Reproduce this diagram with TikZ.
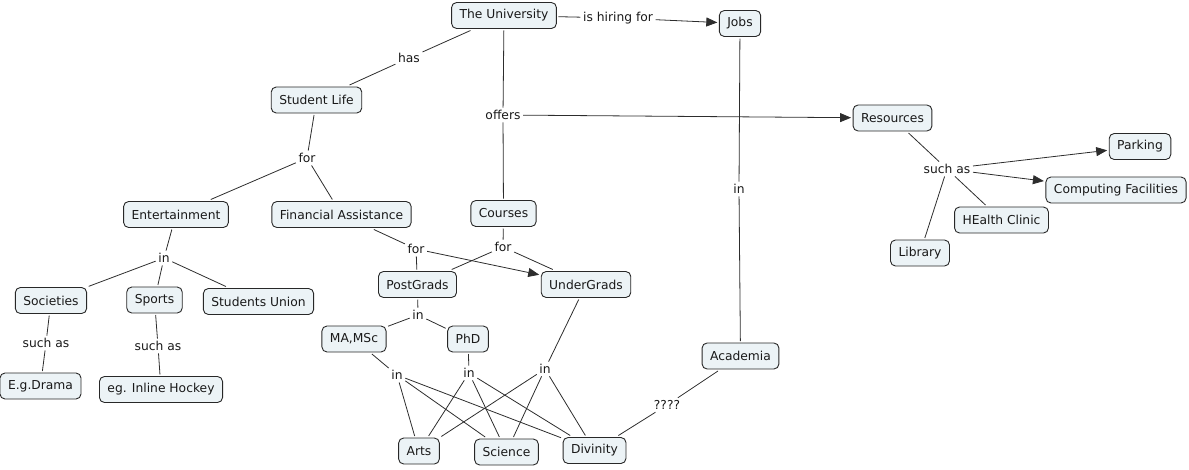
\documentclass[tikz,border=0pt]{standalone}
\usepackage{fontspec}
\setmainfont{DejaVu Sans}
\usetikzlibrary{arrows.meta}
\definecolor{boxfill}{RGB}{236,243,246}
\definecolor{boxline}{RGB}{40,40,40}
\definecolor{lin}{RGB}{45,45,45}
\definecolor{txt}{RGB}{25,25,25}
\newcommand\cmfs{\fontsize{12.3}{14}\selectfont}
\begin{document}
\begin{tikzpicture}[x=1pt,y=-1pt,
 concept/.style={draw=boxline, fill=boxfill, rounded corners=5pt, inner xsep=8pt, inner ysep=0pt, minimum height=26pt, line width=0.9pt, font=\cmfs, text=txt, outer sep=2pt},
 linker/.style={inner sep=2.5pt, font=\cmfs, text=txt},
 conn/.style={draw=lin, line width=0.8pt},
 arr/.style={conn, -{Triangle[length=11pt,width=9pt]}}]
\useasboundingbox (0,0) rectangle (1189,469);
% concepts
\node[concept] (uni) at (504,15.5) {The University};
\node[concept] (jobs) at (740,23.5) {Jobs};
\node[concept] (sl) at (316.5,100) {Student Life};
\node[concept] (res) at (892.5,118) {Resources};
\node[concept] (park) at (1140,146.5) {Parking};
\node[concept] (comp) at (1116,190) {Computing Facilities};
\node[concept] (health) at (1001.5,220) {HEalth Clinic};
\node[concept] (lib) at (920,253) {Library};
\node[concept] (ent) at (176,214.5) {Entertainment};
\node[concept] (fin) at (341.5,214.5) {Financial Assistance};
\node[concept] (courses) at (503.5,213.5) {Courses};
\node[concept] (pg) at (417.5,284.5) {PostGrads};
\node[concept] (ug) at (586,284.5) {UnderGrads};
\node[concept] (soc) at (51,300.5) {Societies};
\node[concept] (sports) at (154.5,300) {Sports};
\node[concept] (su) at (258.5,301.5) {Students Union};
\node[concept] (ma) at (354,339) {MA,MSc};
\node[concept] (phd) at (468,339) {PhD};
\node[concept] (acad) at (740.5,356) {Academia};
\node[concept] (drama) at (40.5,386) {E.g.Drama};
\node[concept] (hockey) at (161,389.5) {eg. Inline Hockey};
\node[concept] (arts) at (419,451) {Arts};
\node[concept] (sci) at (506.5,452) {Science};
\node[concept] (div) at (594.5,450.5) {Divinity};
% linking phrases
\node[linker] (has) at (409,58) {has};
\node[linker] (hire) at (618,18) {is hiring for};
\node[linker] (offers) at (503,115) {offers};
\node[linker] (forsl) at (307,158) {for};
\node[linker] (injobs) at (739,189) {in};
\node[linker] (suchres) at (947,169) {such as};
\node[linker] (inent) at (164,258) {in};
\node[linker] (forfin) at (416,249) {for};
\node[linker] (forcou) at (503,247) {for};
\node[linker] (inpg) at (418,315) {in};
\node[linker] (suchsoc) at (46,343) {such as};
\node[linker] (suchsp) at (158,346) {such as};
\node[linker] (inma) at (397,375) {in};
\node[linker] (inphd) at (469,373) {in};
\node[linker] (inug) at (545,369) {in};
\node[linker] (q) at (667,405) {????};
% connectors
\draw[conn] (uni) -- (has); \draw[conn] (has) -- (sl);
\draw[conn] (uni) -- (hire); \draw[arr] (hire) -- (jobs);
\draw[conn] (uni) -- (offers); \draw[arr] (offers) -- (res); \draw[conn] (offers) -- (courses);
\draw[conn] (sl) -- (forsl); \draw[conn] (forsl) -- (ent); \draw[conn] (forsl) -- (fin);
\draw[conn] (jobs) -- (injobs); \draw[conn] (injobs) -- (acad);
\draw[conn] (res) -- (suchres); \draw[arr] (suchres) -- (park); \draw[arr] (suchres) -- (comp);
\draw[conn] (suchres) -- (health); \draw[conn] (suchres) -- (lib);
\draw[conn] (ent) -- (inent); \draw[conn] (inent) -- (soc); \draw[conn] (inent) -- (sports); \draw[conn] (inent) -- (su);
\draw[conn] (fin) -- (forfin); \draw[conn] (forfin) -- (pg); \draw[arr] (forfin) -- (ug);
\draw[conn] (courses) -- (forcou); \draw[conn] (forcou) -- (pg); \draw[conn] (forcou) -- (ug);
\draw[conn] (pg) -- (inpg); \draw[conn] (inpg) -- (ma); \draw[conn] (inpg) -- (phd);
\draw[conn] (soc) -- (suchsoc); \draw[conn] (suchsoc) -- (drama);
\draw[conn] (sports) -- (suchsp); \draw[conn] (suchsp) -- (hockey);
\draw[conn] (ma) -- (inma); \draw[conn] (inma) -- (arts); \draw[conn] (inma) -- (sci); \draw[conn] (inma) -- (div);
\draw[conn] (phd) -- (inphd); \draw[conn] (inphd) -- (arts); \draw[conn] (inphd) -- (sci); \draw[conn] (inphd) -- (div);
\draw[conn] (ug) -- (inug); \draw[conn] (inug) -- (arts); \draw[conn] (inug) -- (sci); \draw[conn] (inug) -- (div);
\draw[conn] (acad) -- (q); \draw[conn] (q) -- (div);
\end{tikzpicture}
\end{document}
